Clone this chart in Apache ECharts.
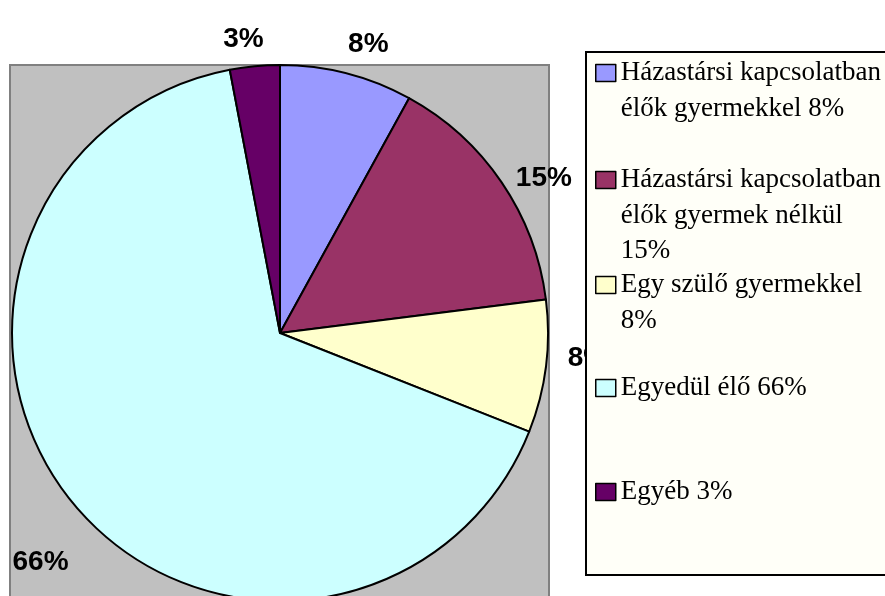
<!DOCTYPE html>
<html>
<head>
<meta charset="utf-8">
<script src="https://cdn.jsdelivr.net/npm/echarts@6/dist/echarts.min.js"></script>
<style>
  html, body { margin: 0; padding: 0; background: #fff; }
  #myChart { width: 885px; height: 596px; }
</style>
</head>
<body>
<div id="myChart"></div>
<script>
// háztartások összetétele
var categories = [
  "Házastársi kapcsolatban élők gyermekkel",
  "Házastársi kapcsolatban élők gyermek nélkül",
  "Egy szülő gyermekkel",
  "Egyedül élő",
  "Egyéb"
];
var shares = [8, 15, 8, 66, 3];
// legend text, line by line, as it is wrapped in the picture
var legendLines = [
  ["Házastársi kapcsolatban", "élők gyermekkel 8%"],
  ["Házastársi kapcsolatban", "élők gyermek nélkül", "15%"],
  ["Egy szülő gyermekkel", "8%"],
  ["Egyedül élő 66%"],
  ["Egyéb 3%"]
];
var colors = ["#9999FF", "#993366", "#FFFFCC", "#CCFFFF", "#660066"];

var lineH = 35.5;
var itemCenters = [73, 180, 285, 388, 492];
// small shifts of the percent labels, the way Excel placed them
var labelNudge = [[-4, -8], [-4, 8], [0, -11], [12, 44], [11, -5]];

var legends = categories.map(function (name, i) {
  var k = legendLines[i].length;
  // blank lines on top so the icon sits next to the first line
  var text = new Array(k).join("\n") + legendLines[i].join("\n");
  var h = (2 * k - 1) * lineH;
  return {
    data: [name],
    orient: "vertical",
    left: 595,
    top: itemCenters[i] - h / 2,
    padding: 0,
    itemWidth: 20,
    itemHeight: 17,
    icon: "rect",
    selectedMode: false,
    z: 5,
    itemStyle: { borderColor: "#000", borderWidth: 1.5 },
    formatter: function () { return text; },
    textStyle: {
      fontFamily: "Liberation Serif",
      fontSize: 27,
      color: "#000",
      lineHeight: lineH
    }
  };
});

var option = {
  animation: false,
  color: colors,
  graphic: [
    {
      type: "rect",
      z: 0,
      shape: { x: 10, y: 65, width: 539, height: 560 },
      style: { fill: "#C0C0C0", stroke: "#808080", lineWidth: 2 }
    },
    {
      type: "rect",
      z: 4,
      shape: { x: 586, y: 52, width: 320, height: 523 },
      style: { fill: "#FFFFF8", stroke: "#000", lineWidth: 2 }
    }
  ],
  legend: legends,
  series: [
    {
      type: "pie",
      center: [280, 333],
      radius: 268,
      startAngle: 90,
      clockwise: true,
      avoidLabelOverlap: false,
      z: 2,
      data: categories.map(function (name, i) {
        return { name: name, value: shares[i] };
      }),
      itemStyle: { borderColor: "#000", borderWidth: 2 },
      label: {
        show: true,
        position: "outside",
        formatter: "{c}%",
        fontFamily: "Liberation Sans",
        fontWeight: "bold",
        fontSize: 28,
        color: "#000",
        distanceToLabelLine: 0
      },
      labelLine: { show: false, length: 22, length2: 0 },
      labelLayout: function (params) {
        var n = labelNudge[params.dataIndex];
        return { dx: n[0], dy: n[1] };
      },
      emphasis: { disabled: true }
    }
  ]
};

var myChart = echarts.init(document.getElementById("myChart"));
myChart.setOption(option);
</script>
</body>
</html>
